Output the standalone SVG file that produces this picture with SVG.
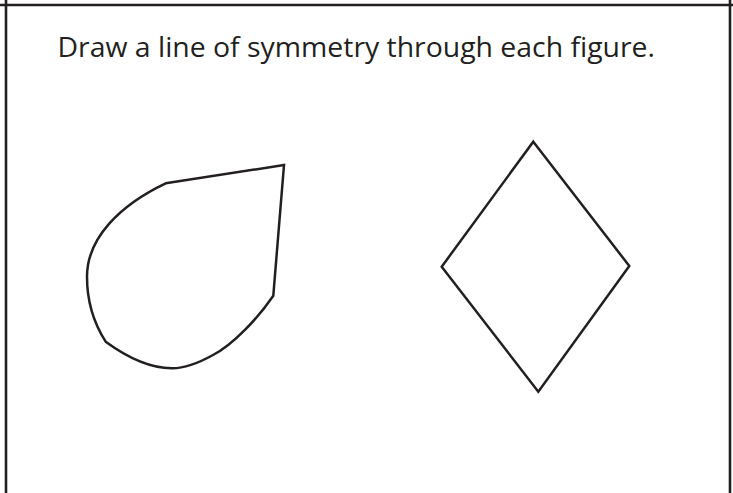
<svg xmlns="http://www.w3.org/2000/svg" width="733" height="493" viewBox="0 0 733 493">
<style>
.frame{stroke:#231f20;stroke-width:2.6;fill:none}
.shape{stroke:#231f20;stroke-width:2.5;fill:none;stroke-linejoin:miter}
.title{font-family:"Open Sans","Noto Sans",sans-serif;font-size:28px;fill:#231f20}
</style>
<rect width="733" height="493" fill="#ffffff"/>
<g id="frame">
<line class="frame" x1="0" y1="5" x2="733" y2="5"/>
<line class="frame" x1="6" y1="0" x2="6" y2="493"/>
<line class="frame" x1="730" y1="0" x2="730" y2="493"/>
</g>
<g id="title">
<text class="title" x="57.5" y="56.7" textLength="597.5" lengthAdjust="spacingAndGlyphs">Draw a line of symmetry through each figure.</text>
</g>
<g id="teardrop">
<path class="shape" d="M165.7,183.3 L284,165 L273.3,295.7 C258,318 233,345 213,355 C195,365 182,368.5 171.7,368.3 C150,368 128,358 105.7,341.7 C95,325 87,305 87,276.7 C87,238 120,205 165.7,183.3 Z"/>
</g>
<g id="diamond">
<path class="shape" d="M533.3,141.7 L629.3,266 L538.3,391.7 L441.7,266.7 Z"/>
</g>
<g id="connectors"></g>
</svg>
